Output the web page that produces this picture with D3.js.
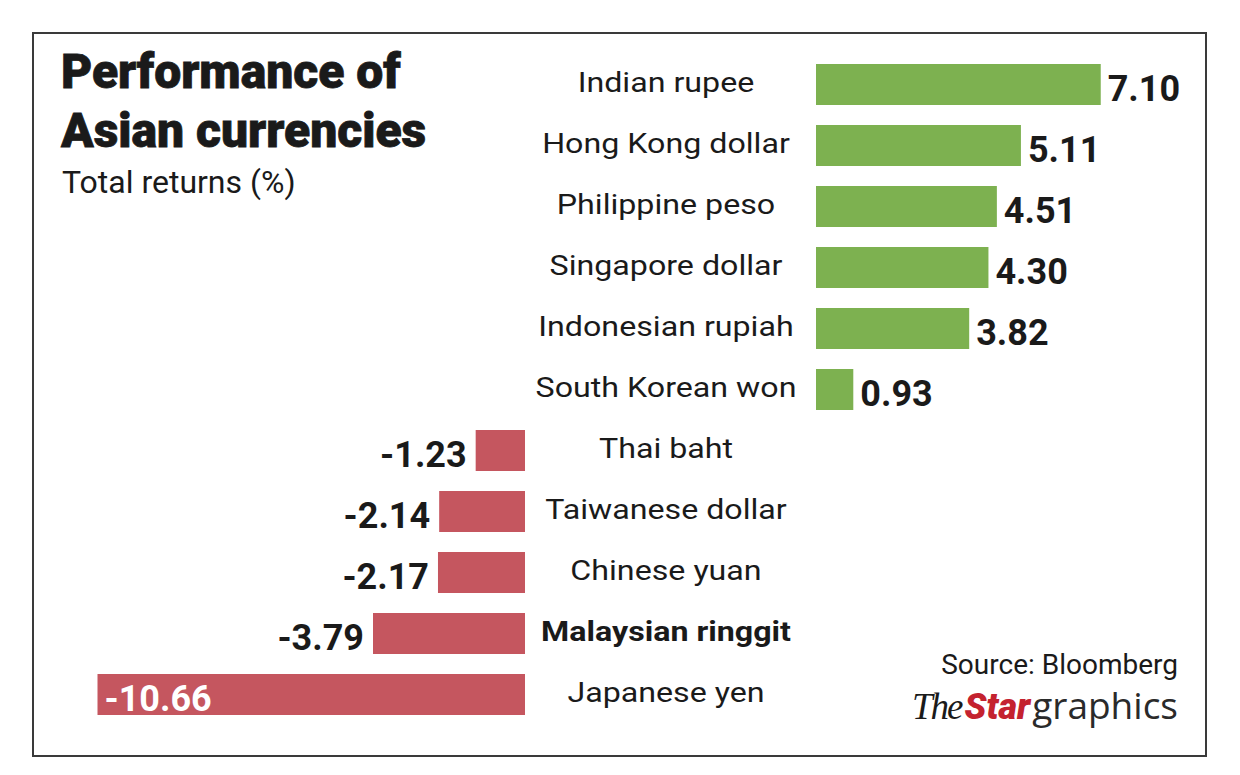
<!DOCTYPE html>
<html>
<head>
<meta charset="utf-8">
<script src="https://cdn.jsdelivr.net/npm/d3@7"></script>
<style>
  html, body { margin: 0; padding: 0; background: #fff; }
  svg { display: block; }
</style>
</head>
<body>
<svg id="chart" width="1240" height="775"></svg>
<script>
const categories = ["Indian rupee", "Hong Kong dollar", "Philippine peso", "Singapore dollar",
  "Indonesian rupiah", "South Korean won", "Thai baht", "Taiwanese dollar",
  "Chinese yuan", "Malaysian ringgit", "Japanese yen"];
const values = [7.10, 5.11, 4.51, 4.30, 3.82, 0.93, -1.23, -2.14, -2.17, -3.79, -10.66];
const highlighted = ["Malaysian ringgit"];

const title = ["Performance of", "Asian currencies"];
const subtitle = "Total returns (%)";
const source = "Source: Bloomberg";

const svg = d3.select("#chart");
const FONT = "Roboto, 'Noto Sans', sans-serif";

// frame
svg.append("rect").attr("x", 33).attr("y", 33).attr("width", 1173).attr("height", 723)
  .attr("fill", "#fff").attr("stroke", "#3a3a3a").attr("stroke-width", 2);

// scales
const posStart = 816, negEnd = 525, labelCenter = 666;
const w = d3.scaleLinear().domain([0, 10.66]).range([0, 427.5]);
const y = d3.scaleBand().domain(categories).range([64, 715]).paddingInner(20 / 61).paddingOuter(0);

const data = categories.map((c, i) => ({ name: c, value: values[i] }));

// bars
svg.append("g").selectAll("rect").data(data).join("rect")
  .attr("x", d => d.value >= 0 ? posStart : negEnd - w(-d.value))
  .attr("y", d => y(d.name))
  .attr("width", d => w(Math.abs(d.value)))
  .attr("height", y.bandwidth())
  .attr("fill", d => d.value >= 0 ? "#7db150" : "#c5565f");

// category labels
svg.append("g").selectAll("text").data(data).join("text")
  .attr("transform", d => `translate(${labelCenter},${y(d.name) + y.bandwidth() / 2 + 7}) scale(1.13,1)`)
  .attr("text-anchor", "middle")
  .attr("font-family", FONT)
  .attr("font-size", 28.5)
  .attr("font-weight", d => highlighted.includes(d.name) ? 700 : 400)
  .attr("fill", "#1a1a1a")
  .text(d => d.name);

// value labels
const fmt = v => d3.format(".2f")(v).replace("\u2212", "-");
const inside = d => d.value < 0 && w(-d.value) > 200;
svg.append("g").selectAll("text").data(data).join("text")
  .attr("x", d => {
    if (d.value >= 0) return posStart + w(d.value) + 7;
    if (inside(d)) return negEnd - w(-d.value) + 7;
    return negEnd - w(-d.value) - 9;
  })
  .attr("y", d => y(d.name) + y.bandwidth() / 2 + 16)
  .attr("text-anchor", d => (d.value >= 0 || inside(d)) ? "start" : "end")
  .attr("font-family", FONT)
  .attr("font-size", 36)
  .attr("font-weight", 700)
  .attr("fill", d => inside(d) ? "#fff" : "#1a1a1a")
  .text(d => fmt(d.value));

// title
svg.append("g").selectAll("text").data(title).join("text")
  .attr("x", 61)
  .attr("y", (d, i) => 88 + i * 59)
  .attr("font-family", FONT)
  .attr("font-size", 48)
  .attr("font-weight", 900)
  .attr("fill", "#1a1a1a")
  .attr("stroke", "#1a1a1a")
  .attr("stroke-width", 0.8)
  .text(d => d);

svg.append("text").attr("x", 62).attr("y", 193)
  .attr("font-family", FONT).attr("font-size", 32).attr("fill", "#1a1a1a")
  .text(subtitle);

// source
svg.append("text").attr("x", 1178).attr("y", 674).attr("text-anchor", "end")
  .attr("font-family", FONT).attr("font-size", 28).attr("fill", "#1a1a1a")
  .text(source);

// logo
const logo = svg.append("text").attr("x", 1178).attr("y", 719).attr("text-anchor", "end");
logo.append("tspan").attr("font-family", "'Liberation Serif', serif").attr("font-style", "italic")
  .attr("font-size", 37).attr("fill", "#1a1a1a").attr("letter-spacing", -2).text("The");
logo.append("tspan").attr("font-family", FONT).attr("font-style", "italic").attr("font-weight", 900)
  .attr("font-size", 36).attr("fill", "#c4222f").attr("dx", 3).text("Star");
logo.append("tspan").attr("font-family", "'Open Sans', sans-serif").attr("font-weight", 400)
  .attr("font-size", 37).attr("fill", "#2a2a2a").attr("dx", 2).text("graphics");
</script>
</body>
</html>
